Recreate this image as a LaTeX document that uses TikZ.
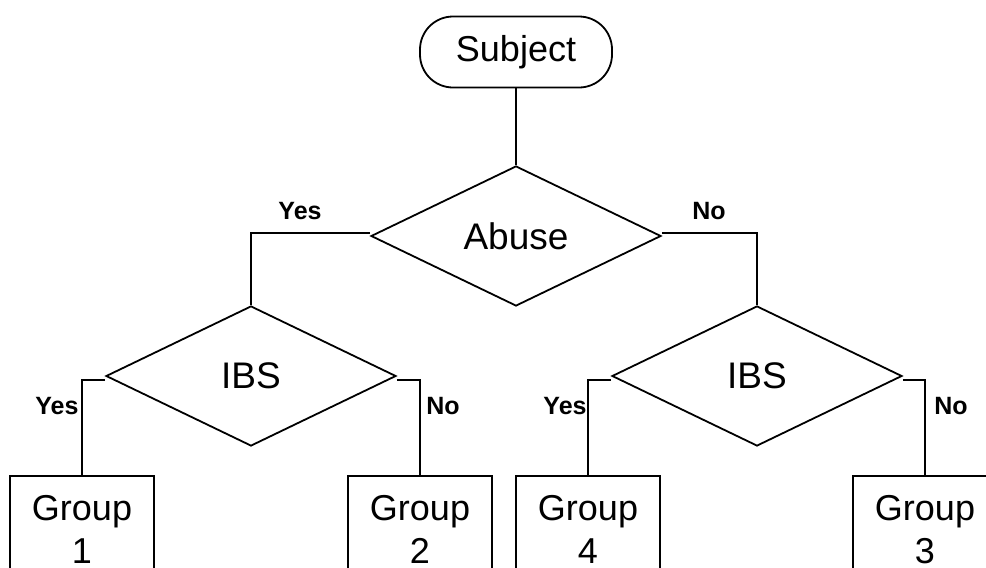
\documentclass[tikz,border=0pt]{standalone}
\usepackage{fontspec}
\setmainfont{Liberation Sans}
\usetikzlibrary{shapes.geometric}
\begin{document}
\begin{tikzpicture}[x=1pt,y=-1pt,line width=1.8pt,
  startbox/.style={rectangle, draw, rounded corners=33pt, minimum width=192pt, minimum height=71pt, inner sep=0pt, font=\fontsize{36}{43}\selectfont},
  decision/.style={diamond, draw, minimum width=290pt, minimum height=140pt, inner sep=0pt, font=\fontsize{37}{43}\selectfont},
  groupbox/.style={rectangle, draw, minimum width=144pt, minimum height=108pt, inner sep=0pt, anchor=north, align=center, font=\fontsize{36}{43}\selectfont},
  lbl/.style={inner sep=0pt, font=\bfseries\fontsize{25}{28}\selectfont},
  wire/.style={draw, line width=1.8pt}]
\path[use as bounding box, clip] (0,0) rectangle (986,568);
\fill[white] (0,0) rectangle (986,568);

\node[startbox] (subject) at (516,52) {Subject};
\node[decision] (abuse) at (516,236) {Abuse};
\node[decision] (ibsL) at (251,376) {IBS};
\node[decision] (ibsR) at (757,376) {IBS};

\node[groupbox] (g1) at (82,475) {Group\\1};
\node[groupbox] (g2) at (420,475) {Group\\2};
\node[groupbox] (g4) at (588,475) {Group\\4};
\node[groupbox] (g3) at (925,475) {Group\\3};

\path[wire] (subject.south) -- (abuse.north);
\path[wire] ([yshift=3pt]abuse.west) -| (ibsL.north);
\path[wire] ([yshift=3pt]abuse.east) -| (ibsR.north);
\path[wire] ([yshift=-4pt]ibsL.west) -| (g1.north);
\path[wire] ([yshift=-4pt]ibsL.east) -| (g2.north);
\path[wire] ([yshift=-4pt]ibsR.west) -| (g4.north);
\path[wire] ([yshift=-4pt]ibsR.east) -| (g3.north);

\node[lbl] (y0) at (300,211) {Yes};
\node[lbl] (n0) at (709,211) {No};
\node[lbl] (y1) at (57,406) {Yes};
\node[lbl] (n1) at (443,406) {No};
\node[lbl] (y2) at (565,406) {Yes};
\node[lbl] (n2) at (951,406) {No};
\end{tikzpicture}
\end{document}
